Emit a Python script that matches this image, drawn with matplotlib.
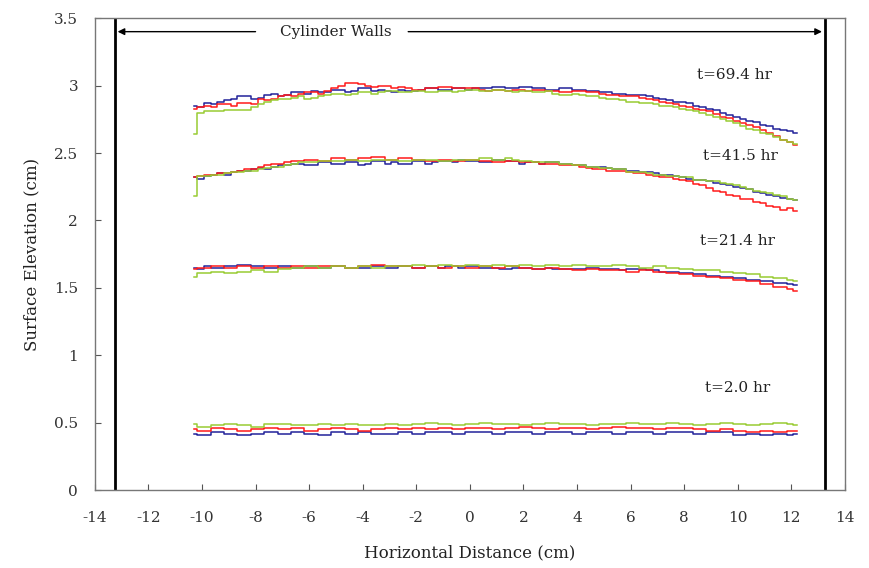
import numpy as np
import matplotlib
matplotlib.use("Agg")
import matplotlib.pyplot as plt

plt.rcParams['axes.unicode_minus'] = False
plt.rcParams['font.family'] = ['DejaVu Serif']

x = [-10.3, -10.05, -9.8, -9.55, -9.3, -9.05, -8.8, -8.55, -8.3, -8.05,
     -7.8, -7.55, -7.3, -7.05, -6.8, -6.55, -6.3, -6.05, -5.8, -5.55,
     -5.3, -5.05, -4.8, -4.55, -4.3, -4.05, -3.8, -3.55, -3.3, -3.05,
     -2.8, -2.55, -2.3, -2.05, -1.8, -1.55, -1.3, -1.05, -0.8, -0.55,
     -0.3, -0.05, 0.2, 0.45, 0.7, 0.95, 1.2, 1.45, 1.7, 1.95,
     2.2, 2.45, 2.7, 2.95, 3.2, 3.45, 3.7, 3.95, 4.2, 4.45,
     4.7, 4.95, 5.2, 5.45, 5.7, 5.95, 6.2, 6.45, 6.7, 6.95,
     7.2, 7.45, 7.7, 7.95, 8.2, 8.45, 8.7, 8.95, 9.2, 9.45,
     9.7, 9.95, 10.2, 10.45, 10.7, 10.95, 11.2, 11.45, 11.7, 11.95,
     12.2]

t694_blue = [2.85,2.84,2.87,2.86,2.88,2.89,2.90,2.92,2.92,2.90,
             2.91,2.93,2.94,2.92,2.93,2.95,2.95,2.94,2.96,2.95,
             2.95,2.97,2.97,2.95,2.96,2.98,2.98,2.96,2.97,2.96,
             2.95,2.97,2.96,2.96,2.97,2.98,2.98,2.97,2.97,2.98,
             2.98,2.97,2.98,2.98,2.98,2.99,2.99,2.98,2.98,2.99,
             2.99,2.98,2.98,2.97,2.97,2.98,2.98,2.97,2.97,2.96,
             2.96,2.95,2.95,2.94,2.94,2.93,2.93,2.93,2.92,2.91,
             2.90,2.89,2.88,2.88,2.87,2.85,2.84,2.83,2.82,2.80,
             2.78,2.77,2.75,2.74,2.73,2.71,2.70,2.68,2.67,2.66,
             2.65]
t694_red = [2.83,2.84,2.85,2.84,2.86,2.86,2.85,2.87,2.87,2.86,
            2.90,2.89,2.90,2.92,2.93,2.92,2.94,2.95,2.95,2.94,
            2.96,2.98,3.00,3.02,3.02,3.01,3.00,2.99,3.00,3.00,
            2.98,2.99,2.98,2.97,2.97,2.98,2.98,2.99,2.99,2.98,
            2.98,2.98,2.98,2.97,2.96,2.97,2.97,2.96,2.97,2.97,
            2.96,2.97,2.97,2.96,2.96,2.95,2.95,2.96,2.96,2.95,
            2.95,2.94,2.93,2.93,2.92,2.92,2.92,2.91,2.90,2.89,
            2.88,2.87,2.86,2.85,2.84,2.83,2.82,2.81,2.79,2.77,
            2.76,2.74,2.72,2.71,2.69,2.67,2.65,2.63,2.60,2.58,
            2.56]
t694_green = [2.64,2.80,2.81,2.81,2.81,2.82,2.82,2.82,2.82,2.84,
              2.86,2.88,2.89,2.90,2.90,2.91,2.92,2.90,2.91,2.92,
              2.93,2.94,2.94,2.93,2.94,2.95,2.95,2.94,2.95,2.96,
              2.96,2.95,2.95,2.96,2.96,2.95,2.95,2.96,2.96,2.95,
              2.96,2.97,2.97,2.96,2.96,2.97,2.97,2.96,2.95,2.96,
              2.96,2.95,2.95,2.96,2.94,2.93,2.93,2.94,2.93,2.92,
              2.92,2.91,2.90,2.90,2.89,2.88,2.88,2.87,2.87,2.86,
              2.85,2.85,2.84,2.83,2.82,2.81,2.80,2.78,2.77,2.75,
              2.74,2.72,2.70,2.68,2.67,2.65,2.64,2.62,2.60,2.58,
              2.57]

t415_blue = [2.32,2.31,2.33,2.34,2.35,2.34,2.36,2.37,2.37,2.38,
             2.39,2.38,2.40,2.41,2.41,2.42,2.42,2.41,2.41,2.43,
             2.43,2.42,2.42,2.43,2.43,2.41,2.42,2.44,2.44,2.42,
             2.43,2.42,2.42,2.44,2.44,2.42,2.43,2.44,2.44,2.43,
             2.45,2.44,2.44,2.43,2.43,2.45,2.45,2.44,2.44,2.42,
             2.43,2.43,2.42,2.43,2.43,2.42,2.42,2.41,2.41,2.40,
             2.40,2.40,2.39,2.38,2.38,2.37,2.37,2.36,2.36,2.35,
             2.34,2.34,2.33,2.32,2.31,2.30,2.30,2.29,2.28,2.27,
             2.26,2.25,2.24,2.23,2.21,2.20,2.19,2.18,2.17,2.16,
             2.15]
t415_red = [2.32,2.33,2.34,2.34,2.35,2.35,2.36,2.37,2.38,2.38,
            2.40,2.41,2.42,2.42,2.43,2.44,2.44,2.45,2.45,2.44,
            2.44,2.46,2.46,2.45,2.45,2.46,2.46,2.47,2.47,2.45,
            2.45,2.46,2.46,2.45,2.45,2.44,2.44,2.45,2.45,2.44,
            2.44,2.45,2.45,2.44,2.44,2.43,2.43,2.44,2.44,2.43,
            2.43,2.43,2.42,2.42,2.42,2.41,2.41,2.41,2.40,2.39,
            2.38,2.38,2.37,2.37,2.37,2.36,2.35,2.35,2.34,2.33,
            2.32,2.32,2.31,2.30,2.29,2.27,2.26,2.24,2.22,2.21,
            2.19,2.18,2.16,2.16,2.14,2.13,2.11,2.10,2.08,2.09,
            2.07]
t415_green = [2.18,2.33,2.33,2.34,2.34,2.35,2.36,2.36,2.37,2.37,
              2.38,2.39,2.40,2.40,2.41,2.42,2.43,2.43,2.43,2.44,
              2.44,2.44,2.44,2.45,2.45,2.44,2.44,2.45,2.45,2.45,
              2.45,2.44,2.44,2.45,2.45,2.45,2.45,2.44,2.44,2.45,
              2.45,2.45,2.45,2.46,2.46,2.45,2.45,2.46,2.45,2.44,
              2.44,2.43,2.43,2.43,2.43,2.42,2.42,2.41,2.41,2.40,
              2.40,2.39,2.39,2.38,2.38,2.36,2.36,2.36,2.35,2.34,
              2.34,2.33,2.33,2.32,2.32,2.30,2.30,2.29,2.29,2.28,
              2.27,2.26,2.25,2.23,2.22,2.21,2.20,2.19,2.18,2.16,
              2.15]

t214_blue = [1.65,1.64,1.66,1.65,1.65,1.66,1.66,1.67,1.67,1.66,
             1.66,1.65,1.65,1.66,1.66,1.65,1.65,1.66,1.66,1.65,
             1.65,1.66,1.66,1.65,1.65,1.65,1.65,1.66,1.66,1.65,
             1.65,1.66,1.66,1.65,1.65,1.66,1.66,1.65,1.66,1.66,
             1.65,1.66,1.66,1.65,1.65,1.65,1.64,1.64,1.65,1.65,
             1.65,1.64,1.64,1.65,1.64,1.64,1.64,1.64,1.64,1.65,
             1.65,1.64,1.64,1.64,1.63,1.64,1.64,1.64,1.63,1.63,
             1.62,1.62,1.62,1.61,1.61,1.60,1.60,1.59,1.59,1.58,
             1.58,1.57,1.57,1.56,1.56,1.55,1.55,1.54,1.54,1.53,
             1.52]
t214_red = [1.64,1.65,1.65,1.66,1.66,1.65,1.65,1.66,1.66,1.65,
            1.65,1.66,1.66,1.65,1.65,1.66,1.66,1.65,1.65,1.66,
            1.66,1.66,1.66,1.65,1.65,1.66,1.66,1.67,1.67,1.66,
            1.66,1.66,1.66,1.65,1.65,1.66,1.66,1.65,1.65,1.66,
            1.66,1.65,1.65,1.66,1.66,1.65,1.65,1.66,1.66,1.65,
            1.65,1.64,1.64,1.65,1.65,1.64,1.64,1.63,1.63,1.64,
            1.64,1.63,1.63,1.63,1.63,1.62,1.62,1.63,1.63,1.62,
            1.62,1.61,1.61,1.60,1.60,1.59,1.59,1.58,1.58,1.57,
            1.57,1.56,1.56,1.55,1.55,1.53,1.53,1.51,1.51,1.49,
            1.48]
t214_green = [1.58,1.61,1.61,1.62,1.62,1.61,1.61,1.62,1.62,1.63,
              1.63,1.62,1.62,1.64,1.64,1.65,1.65,1.66,1.66,1.65,
              1.65,1.66,1.66,1.65,1.65,1.66,1.66,1.65,1.65,1.66,
              1.66,1.66,1.66,1.67,1.67,1.66,1.66,1.67,1.67,1.66,
              1.66,1.67,1.67,1.66,1.66,1.67,1.67,1.66,1.66,1.67,
              1.67,1.66,1.66,1.67,1.67,1.66,1.66,1.67,1.67,1.66,
              1.66,1.66,1.66,1.67,1.67,1.66,1.66,1.65,1.65,1.66,
              1.66,1.65,1.65,1.64,1.64,1.63,1.63,1.63,1.63,1.62,
              1.62,1.61,1.61,1.60,1.60,1.58,1.58,1.57,1.57,1.56,
              1.55]

t20_blue = [0.42,0.41,0.41,0.43,0.43,0.42,0.42,0.41,0.41,0.42,
            0.42,0.43,0.43,0.42,0.42,0.43,0.43,0.42,0.42,0.41,
            0.41,0.43,0.43,0.42,0.42,0.43,0.43,0.42,0.42,0.42,
            0.42,0.43,0.43,0.42,0.42,0.43,0.43,0.43,0.43,0.42,
            0.42,0.43,0.43,0.43,0.43,0.42,0.42,0.43,0.43,0.43,
            0.43,0.42,0.42,0.43,0.43,0.43,0.43,0.42,0.42,0.43,
            0.43,0.43,0.43,0.42,0.42,0.43,0.43,0.43,0.43,0.42,
            0.42,0.43,0.43,0.43,0.43,0.42,0.42,0.43,0.43,0.43,
            0.43,0.41,0.41,0.42,0.42,0.41,0.41,0.42,0.42,0.41,
            0.42]
t20_red = [0.45,0.44,0.44,0.46,0.46,0.45,0.45,0.44,0.44,0.45,
           0.45,0.46,0.46,0.45,0.45,0.46,0.46,0.44,0.44,0.45,
           0.45,0.46,0.46,0.45,0.45,0.44,0.44,0.45,0.45,0.46,
           0.46,0.45,0.45,0.46,0.46,0.45,0.45,0.46,0.46,0.45,
           0.45,0.46,0.46,0.46,0.46,0.45,0.45,0.46,0.46,0.47,
           0.47,0.46,0.46,0.45,0.45,0.46,0.46,0.46,0.46,0.45,
           0.45,0.46,0.46,0.47,0.47,0.46,0.46,0.46,0.46,0.45,
           0.45,0.46,0.46,0.46,0.46,0.45,0.45,0.44,0.44,0.45,
           0.45,0.44,0.44,0.43,0.43,0.44,0.44,0.43,0.43,0.44,
           0.44]
t20_green = [0.49,0.47,0.47,0.48,0.48,0.49,0.49,0.48,0.48,0.47,
             0.47,0.49,0.49,0.49,0.49,0.48,0.48,0.48,0.48,0.49,
             0.49,0.48,0.48,0.49,0.49,0.48,0.48,0.48,0.48,0.49,
             0.49,0.48,0.48,0.49,0.49,0.50,0.50,0.49,0.49,0.48,
             0.48,0.49,0.49,0.50,0.50,0.49,0.49,0.49,0.49,0.48,
             0.48,0.49,0.49,0.50,0.50,0.49,0.49,0.49,0.49,0.48,
             0.48,0.49,0.49,0.49,0.49,0.50,0.50,0.49,0.49,0.49,
             0.49,0.50,0.50,0.49,0.49,0.48,0.48,0.49,0.49,0.50,
             0.50,0.49,0.49,0.48,0.48,0.49,0.49,0.50,0.50,0.49,
             0.48]

time_labels = ["t=69.4 hr", "t=41.5 hr", "t=21.4 hr", "t=2.0 hr"]
label_pos = [(9.9, 3.08), (10.1, 2.48), (10.0, 1.85), (10.0, 0.76)]
wall_x = 13.25

xticks = list(range(-14, 15, 2))
yticks = [0, 0.5, 1, 1.5, 2, 2.5, 3, 3.5]
ytick_labels = ["0", "0.5", "1", "1.5", "2", "2.5", "3", "3.5"]

BLUE = "#22229a"
RED = "#ff1a1a"
GREEN = "#99cc33"

fig = plt.figure(figsize=(8.7, 5.68), dpi=100)
ax = fig.add_axes([0.109, 0.137, 0.862, 0.831])

groups = [
    (t694_blue, t694_red, t694_green),
    (t415_blue, t415_red, t415_green),
    (t214_blue, t214_red, t214_green),
    (t20_blue, t20_red, t20_green),
]
for b, r, g in groups:
    ax.plot(x, b, color=BLUE, lw=1.1, drawstyle='steps-mid')
    ax.plot(x, r, color=RED, lw=1.1, drawstyle='steps-mid')
    ax.plot(x, g, color=GREEN, lw=1.1, drawstyle='steps-mid')

for lab, (lx, ly) in zip(time_labels, label_pos):
    ax.text(lx, ly, lab, fontsize=11, ha='center', va='center', color='#222222')

ax.axvline(-wall_x, color='black', lw=2)
ax.axvline(wall_x, color='black', lw=2)

ax.text(-5.0, 3.4, "Cylinder Walls", fontsize=11, ha='center', va='center', color='#222222')
ax.annotate('', xy=(-wall_x + 0.1, 3.4), xytext=(-8.0, 3.4),
            arrowprops=dict(arrowstyle='-|>', color='black', lw=1.0, shrinkA=0, shrinkB=0))
ax.annotate('', xy=(wall_x - 0.1, 3.4), xytext=(-2.3, 3.4),
            arrowprops=dict(arrowstyle='-|>', color='black', lw=1.0, shrinkA=0, shrinkB=0))

ax.set_xlim(-14, 14)
ax.set_ylim(0, 3.5)
ax.set_xticks(xticks)
ax.set_xticklabels([str(v) for v in xticks])
ax.set_yticks(yticks)
ax.set_yticklabels(ytick_labels)
ax.tick_params(direction='in', length=4, labelsize=11, width=0.8,
               color='#555555', labelcolor='#333333')
ax.tick_params(axis='x', pad=15)
ax.tick_params(axis='y', pad=12)
for s in ax.spines.values():
    s.set_color('#777777')
    s.set_linewidth(1.0)

ax.set_xlabel("Horizontal Distance (cm)", fontsize=12, labelpad=14, color='#222222')
ax.set_ylabel("Surface Elevation (cm)", fontsize=12, labelpad=10, color='#222222')

fig.savefig("out.png", dpi=100, facecolor='white')
